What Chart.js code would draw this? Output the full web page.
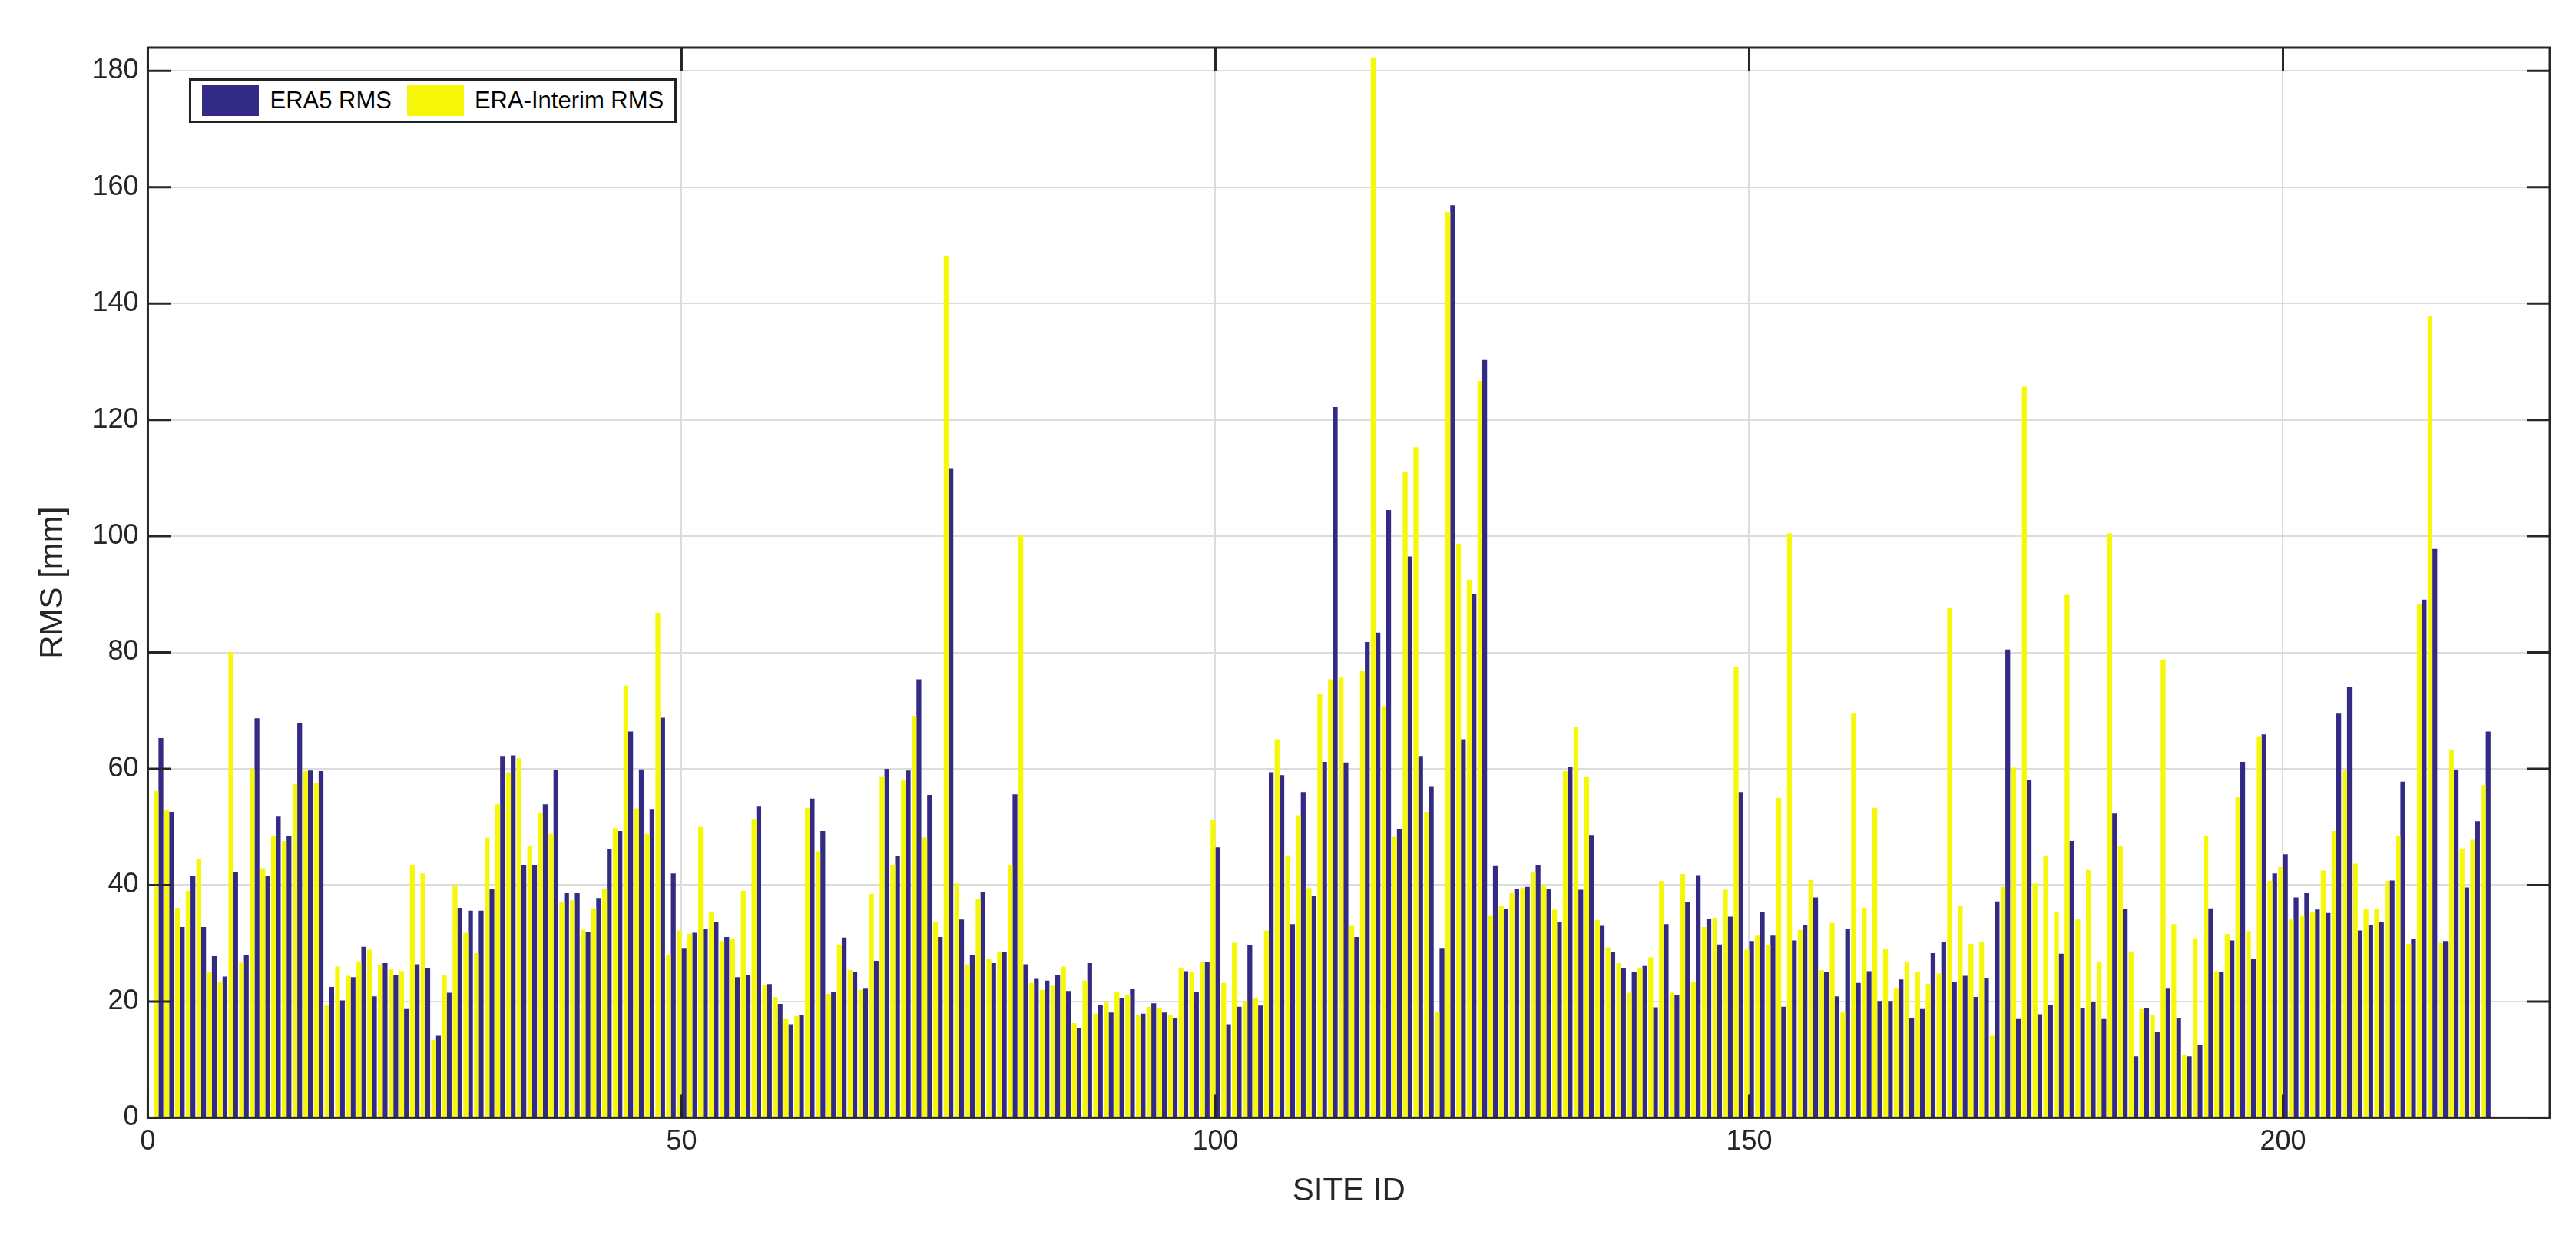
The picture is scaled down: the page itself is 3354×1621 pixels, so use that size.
<!DOCTYPE html>
<html>
<head>
<meta charset="utf-8">
<script src="https://cdn.jsdelivr.net/npm/chart.js@4/dist/chart.umd.min.js"></script>
<style>
  html, body { margin: 0; padding: 0; background: #fff; }
  #wrap { position: relative; width: 3354px; height: 1621px; }
  #legend {
    position: absolute; border: 3px solid #222; background: #fff;
    font-family: "Liberation Sans", Arial, sans-serif; font-size: 31px; color: #000;
    display: flex; align-items: center; padding: 6px 14px; gap: 14px;
  }
  #legend .sw { display: inline-block; width: 74px; height: 40px; }
</style>
</head>
<body>
<div id="wrap">
  <canvas id="chart" width="3354" height="1621"></canvas>
  <div id="legend">
    <span class="sw" style="background:#332a86"></span><span>ERA5 RMS</span>
    <span class="sw" style="background:#f7f70a;margin-left:6px"></span><span>ERA-Interim RMS</span>
  </div>
</div>
<script>
// RMS per site (sites 1..219)
const era5 = [
  65.3, 52.6, 32.8, 41.6, 32.8, 27.8, 24.3, 42.2, 27.9, 68.7,
  41.6, 51.8, 48.4, 67.8, 59.7, 59.6, 22.5, 20.2, 24.2, 29.4,
  20.9, 26.6, 24.5, 18.7, 26.4, 25.8, 14.1, 21.5, 36.1, 35.6,
  35.6, 39.4, 62.2, 62.3, 43.5, 43.5, 53.9, 59.8, 38.6, 38.6,
  31.9, 37.8, 46.2, 49.3, 66.4, 59.9, 53.1, 68.8, 42.0, 29.2,
  31.8, 32.4, 33.6, 31.1, 24.2, 24.5, 53.5, 23.0, 19.6, 16.1,
  17.7, 54.9, 49.3, 21.7, 31.0, 25.0, 22.2, 27.0, 60.0, 45.0,
  59.7, 75.4, 55.5, 31.1, 111.7, 34.1, 27.9, 38.8, 26.6, 28.5,
  55.6, 26.4, 23.9, 23.6, 24.6, 21.8, 15.4, 26.6, 19.4, 18.1,
  20.6, 22.1, 17.9, 19.7, 18.1, 17.1, 25.2, 21.7, 26.8, 46.5,
  16.1, 19.1, 29.7, 19.3, 59.4, 58.9, 33.3, 56.0, 38.2, 61.2,
  122.2, 61.1, 31.1, 81.8, 83.4, 104.5, 49.6, 96.5, 62.2, 56.9,
  29.2, 156.9, 65.1, 90.1, 130.3, 43.4, 35.9, 39.4, 39.7, 43.5,
  39.4, 33.6, 60.3, 39.2, 48.6, 33.0, 28.5, 25.8, 25.0, 26.1,
  19.0, 33.3, 21.1, 37.1, 41.7, 34.2, 29.8, 34.6, 56.0, 30.4,
  35.3, 31.3, 19.1, 30.5, 33.1, 37.9, 25.0, 20.9, 32.4, 23.2,
  25.2, 20.1, 20.1, 23.8, 17.1, 18.7, 28.3, 30.3, 23.3, 24.4,
  20.8, 24.0, 37.2, 80.5, 17.0, 58.1, 17.8, 19.4, 28.2, 47.6,
  18.9, 20.0, 17.0, 52.3, 35.9, 10.6, 18.8, 14.7, 22.2, 17.1,
  10.6, 12.6, 36.0, 25.0, 30.5, 61.2, 27.4, 65.9, 42.0, 45.3,
  37.9, 38.6, 35.8, 35.2, 69.6, 74.1, 32.2, 33.1, 33.7, 40.8,
  57.8, 30.7, 89.1, 97.8, 30.4, 59.8, 39.6, 51.0, 66.4
];
const eraInterim = [
  56.2, 53.0, 36.1, 39.0, 44.5, 25.1, 23.4, 80.1, 26.7, 60.0,
  42.9, 48.4, 47.6, 57.4, 59.6, 57.5, 19.3, 26.0, 24.4, 26.9,
  28.9, 26.3, 25.5, 25.2, 43.5, 42.0, 13.4, 24.5, 40.0, 31.8,
  28.3, 48.2, 53.9, 59.4, 61.8, 46.8, 52.4, 48.8, 37.1, 37.4,
  32.3, 36.0, 39.4, 49.8, 74.3, 53.2, 48.8, 86.8, 28.0, 32.2,
  31.6, 50.0, 35.4, 30.4, 30.7, 39.0, 51.4, 22.8, 20.8, 17.0,
  17.5, 53.3, 45.8, 21.3, 29.8, 25.4, 22.0, 38.5, 58.6, 43.5,
  58.0, 69.1, 48.2, 33.7, 148.2, 40.3, 26.4, 37.7, 27.4, 28.6,
  43.5, 100.2, 23.2, 22.0, 22.7, 26.0, 16.3, 23.6, 17.9, 19.9,
  21.7, 21.1, 17.7, 19.1, 18.9, 17.7, 25.8, 25.0, 26.8, 51.3,
  23.2, 30.1, 20.1, 20.7, 32.2, 65.1, 45.1, 52.0, 39.5, 72.9,
  75.4, 75.7, 33.0, 76.8, 182.3, 70.8, 48.3, 111.0, 115.3, 52.6,
  18.2, 155.7, 98.7, 92.5, 126.7, 34.8, 36.4, 38.6, 39.5, 42.3,
  40.0, 35.8, 59.6, 67.2, 58.6, 34.0, 29.3, 26.6, 21.5, 25.8,
  27.6, 40.7, 21.5, 41.9, 23.4, 32.8, 34.4, 39.2, 77.5, 28.9,
  31.3, 29.7, 55.0, 100.5, 32.3, 40.9, 25.4, 33.5, 18.1, 69.6,
  36.1, 53.3, 29.1, 22.2, 26.9, 25.0, 23.0, 24.8, 87.7, 36.5,
  29.9, 30.3, 14.1, 39.7, 60.2, 125.7, 40.3, 45.0, 35.4, 89.9,
  34.1, 42.6, 26.9, 100.5, 46.8, 28.6, 18.7, 17.7, 78.8, 33.3,
  10.8, 30.9, 48.4, 25.2, 31.6, 55.1, 32.1, 65.6, 40.7, 43.1,
  34.1, 34.8, 35.4, 42.5, 49.3, 59.7, 43.7, 35.8, 35.9, 40.7,
  48.4, 29.9, 88.4, 137.9, 30.1, 63.2, 46.3, 47.8, 57.2
];
const xTicks = [0, 50, 100, 150, 200];
const yTicks = [0, 20, 40, 60, 80, 100, 120, 140, 160, 180];

const toPoints = arr => arr.map((v, i) => ({ x: i + 1, y: v }));

const FONT = '"Liberation Sans", Arial, sans-serif';

// MATLAB-style box, inward ticks, and legend placement
const boxPlugin = {
  id: 'box',
  afterDraw(chart) {
    const { ctx, chartArea: a, scales } = chart;
    ctx.save();
    ctx.strokeStyle = '#262626';
    ctx.lineWidth = 3;
    ctx.strokeRect(a.left, a.top, a.right - a.left, a.bottom - a.top);
    ctx.beginPath();
    xTicks.forEach(t => {
      const px = scales.x.getPixelForValue(t);
      ctx.moveTo(px, a.bottom); ctx.lineTo(px, a.bottom - 30);
      ctx.moveTo(px, a.top); ctx.lineTo(px, a.top + 30);
    });
    yTicks.forEach(t => {
      const py = scales.y.getPixelForValue(t);
      ctx.moveTo(a.left, py); ctx.lineTo(a.left + 30, py);
      ctx.moveTo(a.right, py); ctx.lineTo(a.right - 30, py);
    });
    ctx.stroke();
    ctx.restore();
    const lg = document.getElementById('legend');
    lg.style.left = (a.left + 54) + 'px';
    lg.style.top = (a.top + 40) + 'px';
  }
};

new Chart(document.getElementById('chart'), {
  type: 'bar',
  data: {
    datasets: [
      {
        label: 'ERA5 RMS',
        data: toPoints(era5),
        backgroundColor: '#332a86',
        order: 2
      },
      {
        label: 'ERA-Interim RMS',
        data: toPoints(eraInterim),
        backgroundColor: '#f7f70a',
        order: 1
      }
    ]
  },
  options: {
    responsive: false,
    animation: false,
    devicePixelRatio: 1,
    layout: { padding: { top: 62, right: 34, left: 40, bottom: 40 } },
    datasets: { bar: { barPercentage: 1.0, categoryPercentage: 0.9, grouped: true } },
    plugins: { legend: { display: false }, tooltip: { enabled: false } },
    scales: {
      x: {
        type: 'linear', min: 0, max: 225, offset: false,
        afterBuildTicks: s => { s.ticks = xTicks.map(v => ({ value: v })); },
        ticks: { font: { family: FONT, size: 36 }, color: '#262626', padding: 10 },
        grid: { color: '#dcdcdc', lineWidth: 2, drawTicks: false, offset: false },
        border: { display: false },
        title: { display: true, text: 'SITE ID', font: { family: FONT, size: 42 }, color: '#262626', padding: { top: 8 } }
      },
      y: {
        min: 0, max: 184,
        afterBuildTicks: s => { s.ticks = yTicks.map(v => ({ value: v })); },
        ticks: { font: { family: FONT, size: 36 }, color: '#262626', padding: 12 },
        grid: { color: '#dcdcdc', lineWidth: 2, drawTicks: false },
        border: { display: false },
        title: { display: true, text: 'RMS [mm]', font: { family: FONT, size: 42 }, color: '#262626', padding: { bottom: 14 } }
      }
    }
  },
  plugins: [boxPlugin]
});
</script>
</body>
</html>
